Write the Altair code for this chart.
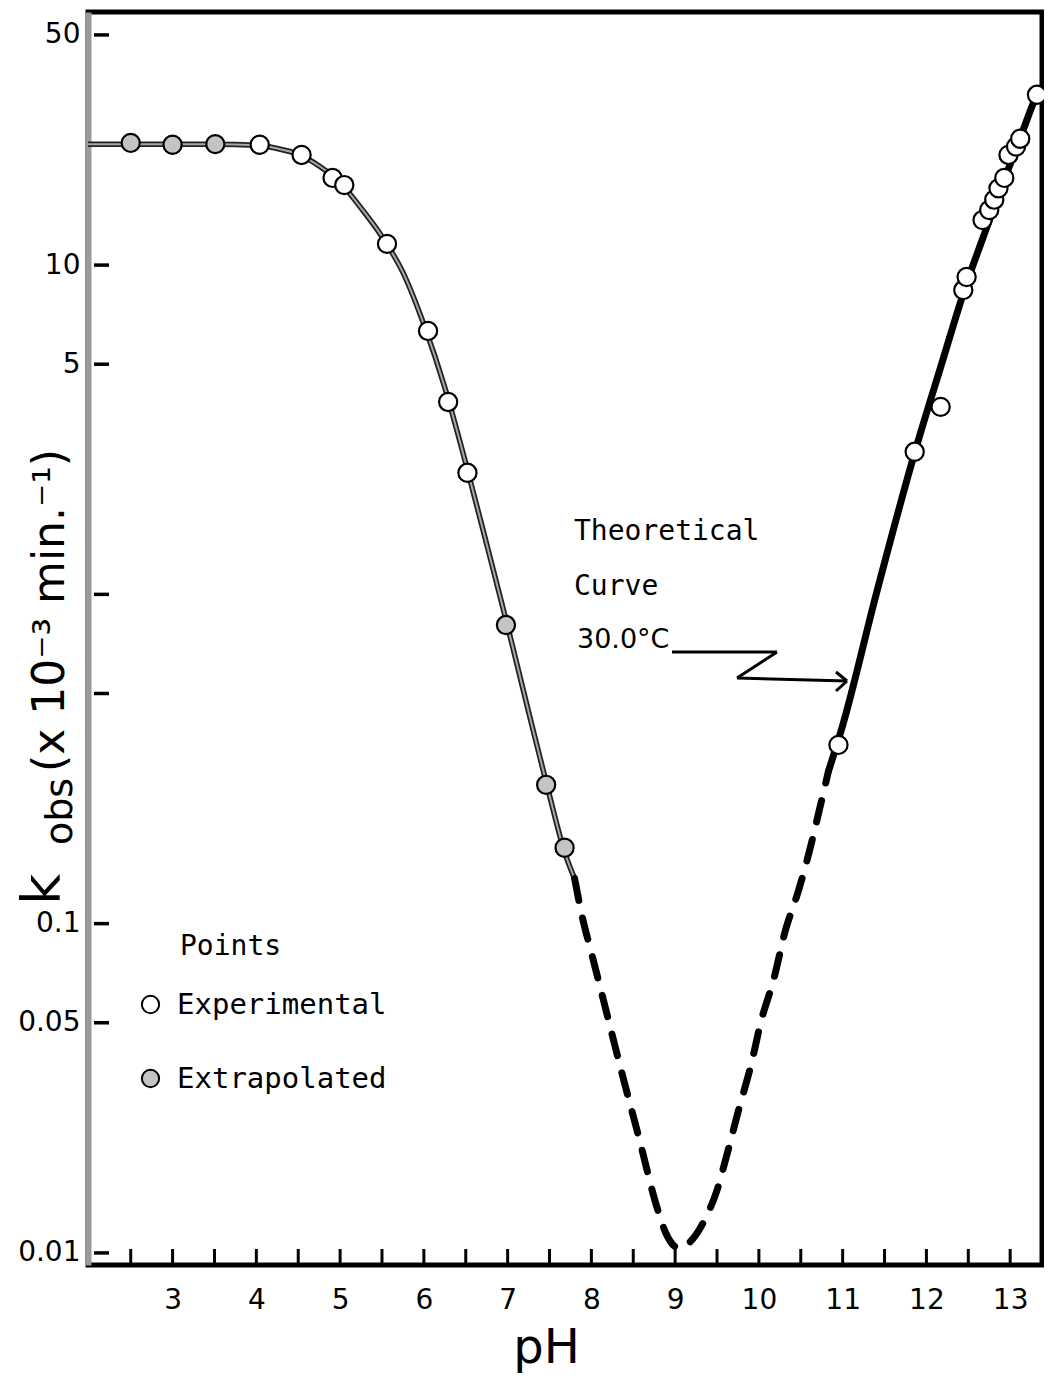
import altair as alt
import pandas as pd

# ---------------- data ----------------
# measured points (pH, k_obs in 10^-3 min^-1)
ph_points = [2.50, 3.00, 3.51, 4.04, 4.54, 4.91, 5.05, 5.56, 6.05, 6.29, 6.52,
             6.98, 7.46, 7.68,
             10.95, 11.86, 12.17, 12.44, 12.48, 12.67, 12.75, 12.81, 12.86,
             12.93, 12.98, 13.07, 13.12, 13.32]
k_points = [23.5, 23.2, 23.3, 23.2, 21.6, 18.4, 17.5, 11.6, 6.31, 3.84, 2.34,
            0.807, 0.264, 0.170,
            0.349, 2.71, 3.71, 8.40, 9.20, 13.7, 14.7, 15.8, 17.1,
            18.4, 21.6, 22.9, 24.2, 32.9]
point_type = (["Extrapolated"] * 3 + ["Experimental"] * 8 + ["Extrapolated"] * 3
              + ["Experimental"] * 14)

# theoretical curve, solid part (acid side)
ph_left = [1.99, 2.5, 3.0, 3.5, 4.0, 4.25, 4.5, 4.75, 5.0, 5.25, 5.5, 5.75, 6.0,
           6.25, 6.5, 6.75, 7.0, 7.25, 7.5, 7.68, 7.8]
k_left = [23.3, 23.3, 23.3, 23.3, 23.1, 22.6, 21.7, 20.0, 17.8, 14.9, 12.2, 9.5, 6.6,
          4.25, 2.5, 1.42, 0.80, 0.44, 0.245, 0.165, 0.137]

# theoretical curve, dashed part (around the minimum)
ph_dash = [7.8, 7.887, 8.006, 8.125, 8.244, 8.364, 8.566, 8.781, 8.888, 9.043, 9.16,
           9.365, 9.50, 9.60, 9.758, 9.90, 10.03, 10.175, 10.318, 10.473, 10.616,
           10.71, 10.83]
k_dash = [0.137, 0.106, 0.0805, 0.0612, 0.0464, 0.0352, 0.0225, 0.0138, 0.0115,
          0.01036, 0.0107, 0.0128, 0.0155, 0.0191, 0.0272, 0.0367, 0.0510, 0.0675,
          0.0957, 0.126, 0.171, 0.215, 0.29]

# theoretical curve, solid part (alkaline side)
ph_right = [10.83, 11.0, 11.4, 11.87, 12.17, 12.48, 12.67, 12.93, 13.12, 13.32, 13.38]
k_right = [0.29, 0.40, 1.0, 2.75, 4.9, 8.8, 12.0, 18.2, 24.3, 32.9, 35.0]

# axes
x_label_values = [3, 4, 5, 6, 7, 8, 9, 10, 11, 12, 13]
x_tick_values = [2.5, 3, 3.5, 4, 4.5, 5, 5.5, 6, 6.5, 7, 7.5, 8, 8.5, 9, 9.5, 10,
                 10.5, 11, 11.5, 12, 12.5, 13]
y_label_values = [50, 10, 5, 0.1, 0.05, 0.01]
y_tick_values = [50, 10, 5, 1, 0.5, 0.1, 0.05, 0.01]
x_domain = [1.99, 13.38]
y_domain = [0.00919, 58.7]

# texts
legend_title = "Points"
ann_lines = ["Theoretical", "Curve", "30.0°C"]
y_title_k = "k"
y_title_sub = "obs"
y_title_rest = "(x 10\u207b\u00b3 min.\u207b\u00b9)"
x_title = "pH"

# ---------------- chart ----------------
W, H = 954, 1253
FONT = "DejaVu Sans"
MONO = "DejaVu Sans Mono"

xs = alt.Scale(domain=x_domain, zero=False, nice=False)
ys = alt.Scale(type="log", domain=y_domain, nice=False)

x_axis = alt.Axis(values=x_label_values, ticks=False, domain=False, grid=False,
                  labelFont=FONT, labelFontSize=28, labelColor="black",
                  labelPadding=21, title=x_title, titleFont=FONT, titleFontSize=48,
                  titleFontWeight="normal", titleColor="black", titleX=458,
                  titleY=97, titleAlign="center", titleBaseline="alphabetic")
y_axis = alt.Axis(values=y_label_values, format="~g", ticks=False, domain=True,
                  domainColor="#9a9a9a", domainWidth=6, grid=False,
                  labelFont=FONT, labelFontSize=28, labelColor="black",
                  labelPadding=8, title=None)

pts = pd.DataFrame({"pH": ph_points, "k": k_points, "type": point_type})
left = pd.DataFrame({"pH": ph_left, "k": k_left})
dash = pd.DataFrame({"pH": ph_dash, "k": k_dash})
right = pd.DataFrame({"pH": ph_right, "k": k_right})

X = alt.X("pH:Q", scale=xs, axis=x_axis)
Y = alt.Y("k:Q", scale=ys, axis=y_axis)

one = pd.DataFrame({"a": [0]})

xticks = alt.Chart(pd.DataFrame({"pH": x_tick_values})).mark_rule(
    color="black", strokeWidth=3).encode(x=X, y=alt.value(H - 16), y2=alt.value(H))
yticks = alt.Chart(pd.DataFrame({"k": y_tick_values})).mark_rule(
    color="black", strokeWidth=3.5).encode(y=Y, x=alt.value(6), x2=alt.value(21))

left_dark = alt.Chart(left).mark_line(color="#222222", strokeWidth=5.5,
                                      interpolate="monotone").encode(x=X, y=Y)
left_light = alt.Chart(left).mark_line(color="#a8a8a8", strokeWidth=2,
                                       interpolate="monotone").encode(x=X, y=Y)
dash_line = alt.Chart(dash).mark_line(color="black", strokeWidth=7, strokeCap="round",
                                      strokeDash=[22, 18],
                                      interpolate="monotone").encode(x=X, y=Y)
right_line = alt.Chart(right).mark_line(color="black", strokeWidth=7,
                                        interpolate="monotone").encode(x=X, y=Y)

points = alt.Chart(pts).mark_point(shape="circle", filled=True, size=330,
                                   stroke="black", strokeWidth=2.2, opacity=1).encode(
    x=X, y=Y,
    fill=alt.Fill("type:N",
                  scale=alt.Scale(domain=["Experimental", "Extrapolated"],
                                  range=["white", "#c4c4c4"]),
                  legend=alt.Legend(title=None, orient="none", legendX=48, legendY=978,
                                    labelFont=MONO, labelFontSize=29, labelLimit=0,
                                    labelColor="black", symbolType="circle",
                                    symbolSize=300, symbolStrokeColor="black",
                                    symbolStrokeWidth=2, rowPadding=44,
                                    labelOffset=12, padding=0)))


def txt(s, x, y, size, font=MONO, angle=0, weight="normal"):
    kw = dict(align="left", baseline="middle", font=font, fontSize=size,
              color="black", fontWeight=weight)
    if angle:
        kw.update(angle=angle, baseline="alphabetic")
    return alt.Chart(one).mark_text(**kw).encode(
        x=alt.value(x), y=alt.value(y), text=alt.value(s))


texts = [
    txt(legend_title, 92, 935, 28),
    txt(ann_lines[0], 486, 520, 28),
    txt(ann_lines[1], 486, 575, 28),
    txt(ann_lines[2], 489, 628, 27, font=FONT),
    txt(y_title_k, -28, 893, 54, font=FONT, angle=270),
    txt(y_title_sub, -16, 833, 38, font=FONT, angle=270),
    txt(y_title_rest, -24, 760, 44, font=FONT, angle=270),
]


def seg(x1, y1, x2, y2):
    return alt.Chart(one).mark_rule(color="black", strokeWidth=3).encode(
        x=alt.value(x1), y=alt.value(y1), x2=alt.value(x2), y2=alt.value(y2))


arrow = [seg(584, 640, 689, 640), seg(689, 640, 649, 666), seg(649, 666, 759, 669),
         seg(759, 669, 748, 660), seg(759, 669, 748, 679)]

chart = alt.layer(xticks, yticks, left_dark, left_light, dash_line, right_line,
                  points, *texts, *arrow).properties(
    width=W, height=H,
    autosize=alt.AutoSizeParams(type="none"),
    padding={"left": 80, "top": 4, "right": 2, "bottom": 110},
).configure_view(stroke="black", strokeWidth=5)

chart.save("out.html", embed_options={"renderer": "svg", "actions": False})
